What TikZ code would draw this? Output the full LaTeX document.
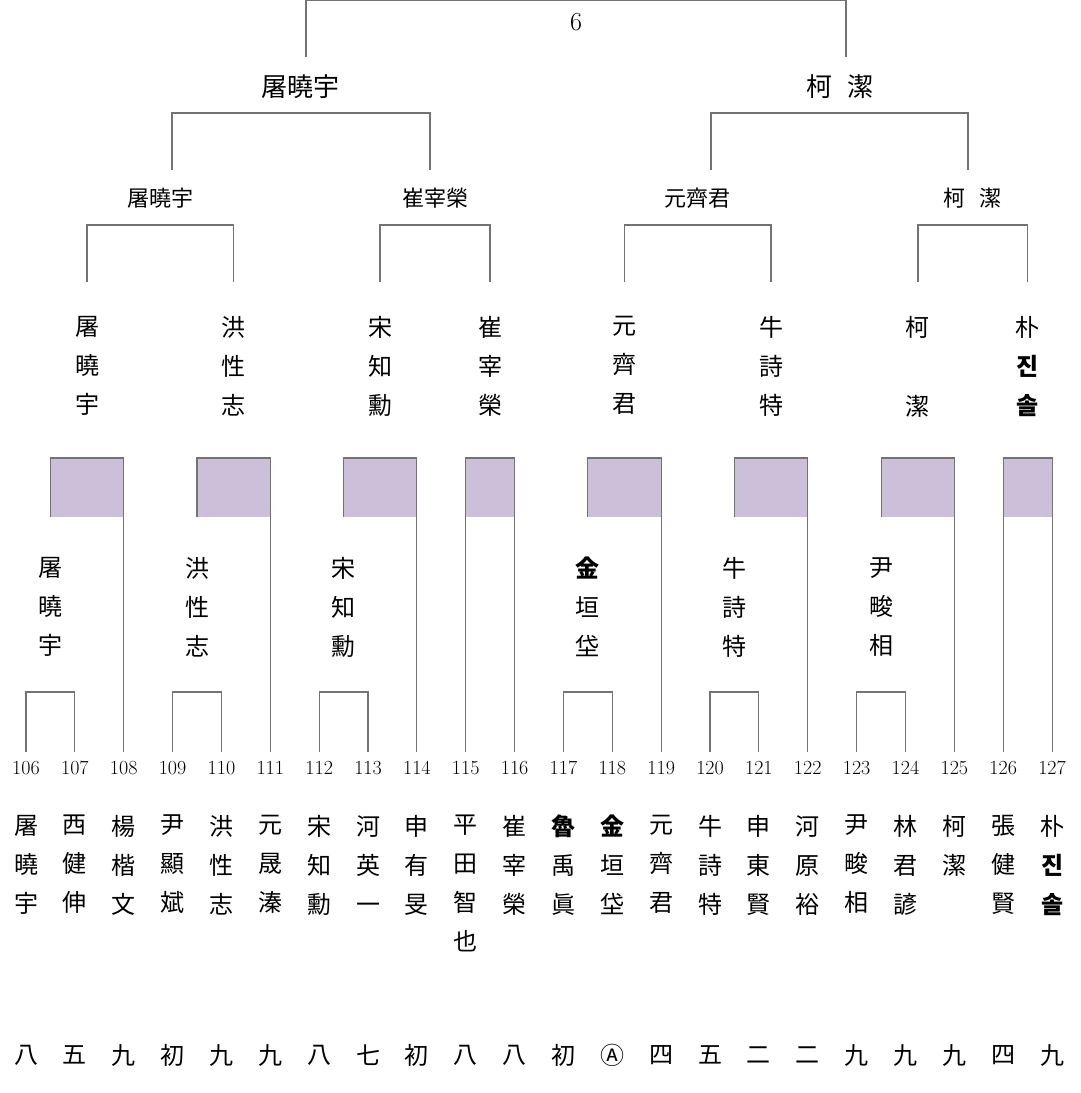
\documentclass[tikz,border=0pt]{standalone}
\usepackage{fontspec}
\newfontfamily\cjk{Noto Sans CJK JP}
\newfontfamily\kr{Noto Sans CJK KR}
\definecolor{boxc}{RGB}{203,191,218}
\tikzset{ln/.style={draw=black!55,line width=1.1pt},
 nm/.style={font=\cjk\fontsize{24}{39}\selectfont,align=center,inner sep=0pt},
 num/.style={font=\fontsize{20}{20}\selectfont,inner sep=0pt},
 lab/.style={font=\cjk\fontsize{22}{22}\selectfont,inner sep=0pt}}
\newcommand{\bb}[1]{{\bfseries #1}}
\begin{document}
\begin{tikzpicture}[x=1pt,y=-1pt]
\useasboundingbox (0,0) rectangle (1080,1093);
% numbers and player names
\foreach \i/\n/\r in {106/屠\\曉\\宇/八,107/西\\健\\伸/五,108/楊\\楷\\文/九,109/尹\\顯\\斌/初,110/洪\\性\\志/九,111/元\\晟\\溱/九,112/宋\\知\\勳/八,113/河\\英\\一/七,114/申\\有\\旻/初,115/平\\田\\智\\也/八,116/崔\\宰\\榮/八,117/\bb{魯}\\禹\\眞/初,118/\bb{金}\\垣\\垈/Ⓐ,119/元\\齊\\君/四,120/牛\\詩\\特/五,121/申\\東\\賢/二,122/河\\原\\裕/二,123/尹\\畯\\相/九,124/林\\君\\諺/九,125/柯\\潔/九,126/張\\健\\賢/四,127/朴\\{\kr\bfseries 진}\\{\kr\bfseries 솔}/九}{
 \pgfmathsetmacro\xx{26+48.86*(\i-106)}
 \node[num] (n\i) at (\xx,768) {\i};
 \node[nm,anchor=north] (p\i) at (\xx,815) {\n};
 \node[nm] (r\i) at (\xx,1055) {\r};
}
% groups with a pair
\foreach \a/\q/\t in {106/屠\\曉\\宇/屠\\曉\\宇,109/洪\\性\\志/洪\\性\\志,112/宋\\知\\勳/宋\\知\\勳,117/\bb{金}\\垣\\垈/元\\齊\\君,120/牛\\詩\\特/牛\\詩\\特,123/尹\\畯\\相/柯\\[40pt]潔}{
 \pgfmathsetmacro\xa{26+48.86*(\a-106)}
 \pgfmathsetmacro\xb{\xa+48.86}
 \pgfmathsetmacro\xc{\xa+2*48.86}
 \pgfmathsetmacro\xm{(\xa+\xb)/2}
 \pgfmathsetmacro\xt{(\xm+\xc)/2}
 \draw[ln] (\xa,752) -- (\xa,692) -- (\xb,692) -- (\xb,752);
 \fill[boxc] (\xm,517) rectangle (\xc,458);
 \draw[ln] (\xm,517) -- (\xm,458) -- (\xc,458) -- (\xc,752);
 \node[nm] (q\a) at (\xm,607) {\q};
 \node[nm,anchor=north] (t\a) at (\xt,316) {\t};
}
% direct pairs
\foreach \a/\t in {115/崔\\宰\\榮,126/朴\\{\kr\bfseries 진}\\{\kr\bfseries 솔}}{
 \pgfmathsetmacro\xa{26+48.86*(\a-106)}
 \pgfmathsetmacro\xb{\xa+48.86}
 \pgfmathsetmacro\xt{(\xa+\xb)/2}
 \fill[boxc] (\xa,517) rectangle (\xb,458);
 \draw[ln] (\xa,752) -- (\xa,458) -- (\xb,458) -- (\xb,752);
 \node[nm,anchor=north] (t\a) at (\xt,316) {\t};
}
% semis
\foreach \l/\r/\w in {87/233.6/屠曉宇,380/490/崔宰榮,624.6/771/元齊君,918/1027.6/柯\hspace{14pt}潔}{
 \draw[ln] (\l,282) -- (\l,225) -- (\r,225) -- (\r,282);
 \node[lab] at ({(\l+\r)/2},198) {\w};
}
% finals of halves
\draw[ln] (172,170) -- (172,113) -- (430,113) -- (430,170);
\draw[ln] (711,170) -- (711,113) -- (968,113) -- (968,170);
\node[lab,font=\cjk\fontsize{26}{26}\selectfont] (h1) at (300,87) {屠曉宇};
\node[lab,font=\cjk\fontsize{26}{26}\selectfont] (h2) at (840,87) {柯\hspace{16pt}潔};
\draw[ln] (306,57) -- (306,0) -- (846,0) -- (846,57);
\node[num,font=\fontsize{26}{26}\selectfont] (f) at (576,22) {6};
\end{tikzpicture}
\end{document}
